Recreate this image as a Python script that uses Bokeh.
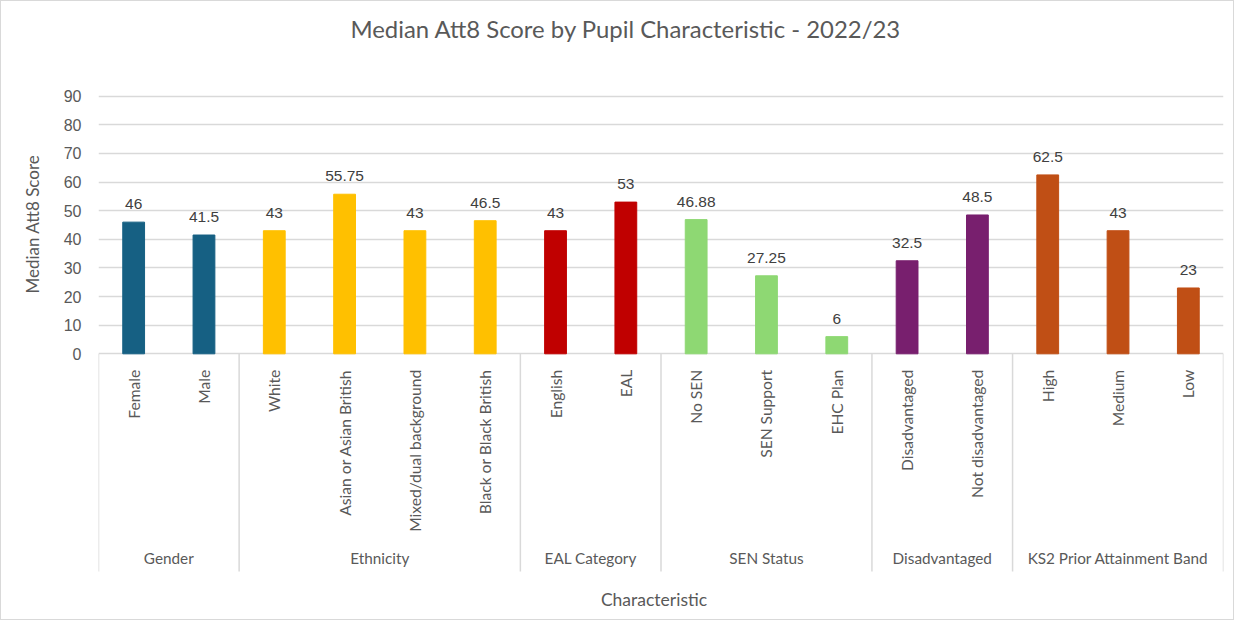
import math
from bokeh.plotting import figure
from bokeh.models import Range1d, FixedTicker, Title, ColumnDataSource
from bokeh.core.properties import value
from bokeh.embed import file_html
from bokeh.resources import INLINE

# ---------------- data ----------------
groups = ["Gender", "Ethnicity", "EAL Category", "SEN Status", "Disadvantaged", "KS2 Prior Attainment Band"]
group_sizes = [2, 4, 2, 3, 2, 3]
group_colors = ["#166083", "#FFC000", "#C00000", "#8ED873", "#781F6E", "#C04F15"]
categories = ["Female", "Male",
              "White", "Asian or Asian British", "Mixed/dual background", "Black or Black British",
              "English", "EAL",
              "No SEN", "SEN Support", "EHC Plan",
              "Disadvantaged", "Not disadvantaged",
              "High", "Medium", "Low"]
values = [46, 41.5,
          43, 55.75, 43, 46.5,
          43, 53,
          46.88, 27.25, 6,
          32.5, 48.5,
          62.5, 43, 23]
value_labels = ["46", "41.5", "43", "55.75", "43", "46.5", "43", "53",
                "46.88", "27.25", "6", "32.5", "48.5", "62.5", "43", "23"]
y_ticks = [0, 10, 20, 30, 40, 50, 60, 70, 80, 90]
title_text = "Median Att8 Score by Pupil Characteristic - 2022/23"
x_title = "Characteristic"
y_title = "Median Att8 Score"

TEXT = "#595959"
GRID = "#D9D9D9"
FONT = "Lato"
NUMFONT = "Liberation Sans"

# ---------------- layout (pixels inside the figure) ----------------
W, H = 1234, 620
LEFT, RIGHT = 96, 12
Y0_PX, Y90_PX = 352.3, 94.7            # pixel rows of value 0 and value 90
PPU = (Y0_PX - Y90_PX) / 90.0          # pixels per unit
y_end = Y0_PX / PPU
y_start = -(H - Y0_PX) / PPU
sep_bottom = -(570.0 - Y0_PX) / PPU    # group separators end

# ---------------- derived ----------------
n = len(categories)
xs = [i + 0.5 for i in range(n)]
colors = []
boundaries = [0]
gcenters = []
for g, s, c in zip(groups, group_sizes, group_colors):
    colors += [c] * s
    gcenters.append(boundaries[-1] + s / 2)
    boundaries.append(boundaries[-1] + s)

src = ColumnDataSource(dict(x=xs, top=values, color=colors, cat=categories, lab=value_labels))

p = figure(width=W, height=H, output_backend="svg", toolbar_location=None,
           x_range=Range1d(0, n), y_range=Range1d(y_start, y_end),
           min_border_left=LEFT, min_border_right=RIGHT, min_border_top=0, min_border_bottom=0)
p.styles = {"border": "1px solid #D9D9D9"}
p.outline_line_color = None
p.background_fill_color = "white"
p.border_fill_color = "white"

# grid
p.xgrid.visible = False
p.ygrid.ticker = FixedTicker(ticks=y_ticks)
p.ygrid.grid_line_color = GRID
p.ygrid.grid_line_width = 1.5

# y axis
p.yaxis.ticker = FixedTicker(ticks=y_ticks)
p.yaxis.axis_line_color = None
p.yaxis.major_tick_line_color = None
p.yaxis.minor_tick_line_color = None
p.yaxis.major_tick_out = 0
p.yaxis.major_label_standoff = 17
p.yaxis.major_label_text_font = NUMFONT
p.yaxis.major_label_text_font_size = "16px"
p.yaxis.major_label_text_color = TEXT

# y axis title as a side title
ytitle = Title(text=y_title, align="left", offset=328, standoff=36,
               text_font=FONT, text_font_size="17px", text_font_style="normal", text_color=TEXT)
p.add_layout(ytitle, "left")

# x axis hidden; its title is drawn as text below
p.xaxis.visible = False

# group separators
p.segment(x0=boundaries, y0=[0] * len(boundaries), x1=boundaries, y1=[sep_bottom] * len(boundaries),
          line_color=GRID, line_width=1.5)

# bars
p.vbar(x="x", top="top", bottom=0, width=0.31, color="color", source=src)

# data labels
p.text(x="x", y="top", text="lab", source=src, text_align="center", text_baseline="bottom",
       y_offset=-13, text_font=value(NUMFONT), text_font_size="15.5px", text_color="#404040")

# category labels
p.text(x="x", y=0, text="cat", source=src, angle=math.pi / 2, text_align="right",
       text_baseline="middle", y_offset=16, text_font=value(FONT), text_font_size="15.6px",
       text_color=TEXT)

# group labels
p.text(x=gcenters, y=[0] * len(gcenters), text=groups, text_align="center", text_baseline="middle",
       y_offset=204, text_font=value(FONT), text_font_size="15.3px", text_color=TEXT)

# chart title and x-axis title
p.text(x=[n / 2], y=[max(y_ticks)], text=[title_text], text_align="center", text_baseline="middle",
       x_offset=-35, y_offset=-68, text_font=value(FONT), text_font_size="23.9px", text_color=TEXT)
p.text(x=[n / 2], y=[0], text=[x_title], text_align="center", text_baseline="middle",
       x_offset=-7, y_offset=246, text_font=value(FONT), text_font_size="17.5px", text_color=TEXT)

open("out.html", "w").write(file_html(p, INLINE))
